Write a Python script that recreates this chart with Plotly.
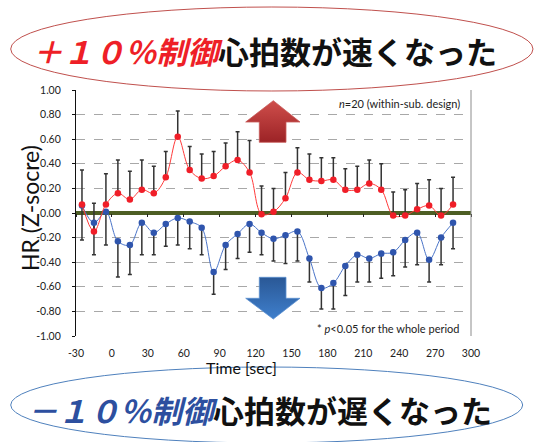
import plotly.graph_objects as go

# Time bins (sec) and heart-rate z-scores, mean and SE per bin
time_sec = [-25, -15, -5, 5, 15, 25, 35, 45, 55, 65, 75, 85, 95, 105, 115, 125,
            135, 145, 155, 165, 175, 185, 195, 205, 215, 225, 235, 245, 255, 265, 275, 285]

plus10_mean = [0.07, -0.15, 0.07, 0.16, 0.11, 0.19, 0.16, 0.29, 0.62, 0.35, 0.28, 0.30,
               0.38, 0.43, 0.33, -0.01, 0.01, 0.12, 0.33, 0.27, 0.26, 0.27, 0.19, 0.19,
               0.24, 0.19, -0.02, -0.02, 0.03, 0.06, -0.02, 0.07]
plus10_err = [0.28, 0.23, 0.25, 0.27, 0.23, 0.24, 0.22, 0.21, 0.21, 0.19, 0.20, 0.20,
              0.19, 0.23, 0.26, 0.23, 0.19, 0.21, 0.20, 0.21, 0.19, 0.18, 0.17, 0.19,
              0.19, 0.21, 0.19, 0.21, 0.21, 0.21, 0.22, 0.22]

minus10_mean = [0.06, -0.08, 0.01, -0.23, -0.26, -0.08, -0.16, -0.09, -0.04, -0.07, -0.12, -0.48,
                -0.26, -0.17, -0.09, -0.16, -0.21, -0.18, -0.15, -0.37, -0.61, -0.57, -0.43, -0.34,
                -0.37, -0.33, -0.32, -0.22, -0.16, -0.38, -0.20, -0.08]
minus10_err = [0.28, 0.26, 0.27, 0.29, 0.24, 0.26, 0.18, 0.18, 0.22, 0.22, 0.22, 0.18,
               0.20, 0.20, 0.23, 0.18, 0.18, 0.23, 0.24, 0.19, 0.17, 0.21, 0.24, 0.22,
               0.19, 0.20, 0.19, 0.22, 0.26, 0.18, 0.22, 0.21]

x_ticks = [-30, 0, 30, 60, 90, 120, 150, 180, 210, 240, 270, 300]
x_tick_text = ["-30", "0", "30", "60", "90", "120", "150", "180", "210", "240", "270", "300"]
y_ticks = [-1.0, -0.8, -0.6, -0.4, -0.2, 0.0, 0.2, 0.4, 0.6, 0.8, 1.0]
y_tick_text = ["-1.00", "-0.80", "-0.60", "-0.40", "-0.20", "0.00",
               "0.20", "0.40", "0.60", "0.80", "1.00"]

W, H = 535, 442
FONT = "Lato"
JP = "Noto Sans CJK JP"
RED, BLUE = "#f01e28", "#2f55ad"
ERR = "#333333"

fig = go.Figure()

zeros = [0] * len(time_sec)

# error bars first so the markers sit on top of them
fig.add_trace(go.Scatter(
    x=time_sec, y=plus10_mean, mode="markers", marker=dict(size=1, opacity=0),
    error_y=dict(type="data", symmetric=False, array=plus10_err, arrayminus=zeros,
                 color=ERR, thickness=1.5, width=2),
    hoverinfo="skip", showlegend=False))
fig.add_trace(go.Scatter(
    x=time_sec, y=minus10_mean, mode="markers", marker=dict(size=1, opacity=0),
    error_y=dict(type="data", symmetric=False, array=zeros, arrayminus=minus10_err,
                 color=ERR, thickness=1.5, width=2),
    hoverinfo="skip", showlegend=False))

fig.add_trace(go.Scatter(
    x=time_sec, y=minus10_mean, mode="lines+markers", name="-10%",
    line=dict(color="#4a74c8", width=1, shape="spline", smoothing=1),
    marker=dict(color=BLUE, size=6.5), showlegend=False))
fig.add_trace(go.Scatter(
    x=time_sec, y=plus10_mean, mode="lines+markers", name="+10%",
    line=dict(color="#ff3a3a", width=1, shape="spline", smoothing=1),
    marker=dict(color=RED, size=6.5), showlegend=False))

# tick marks hanging from the zero line
fig.add_trace(go.Scatter(x=[None], y=[None], xaxis="x2", yaxis="y",
                         showlegend=False, hoverinfo="skip"))

# decorative arrows, drawn on a full-figure pixel overlay
up_x = [273.3, 300, 286, 286, 259.3, 259.3, 245.7, 273.3]
up_y = [100.7, 122, 122, 142.3, 142.3, 122, 122, 100.7]
dn_x = [259.3, 286, 286, 300, 273.3, 245.7, 259.3, 259.3]
dn_y = [277.3, 277.3, 298.3, 298.3, 319, 298.3, 298.3, 277.3]

fig.add_trace(go.Scatter(
    x=up_x, y=up_y, xaxis="x3", yaxis="y3", mode="lines", fill="toself",
    line=dict(color="#c85a58", width=0.8),
    fillgradient=dict(type="vertical", colorscale=[[0, "#9c2326"], [1, "#cf4e4b"]],
                      start=142.3, stop=100.7),
    hoverinfo="skip", showlegend=False))
fig.add_trace(go.Scatter(
    x=dn_x, y=dn_y, xaxis="x3", yaxis="y3", mode="lines", fill="toself",
    line=dict(color="#5b8fd0", width=0.8),
    fillgradient=dict(type="vertical", colorscale=[[0, "#2a5896"], [1, "#3f7fcc"]],
                      start=277.3, stop=319),
    hoverinfo="skip", showlegend=False))

x_dom = [76 / W, 471 / W]
y_dom = [(H - 336) / H, (H - 90) / H]
zero_pos = y_dom[0] + (y_dom[1] - y_dom[0]) / 2

fig.update_layout(
    width=W, height=H,
    margin=dict(l=0, r=0, t=0, b=0, pad=0, autoexpand=False),
    paper_bgcolor="white", plot_bgcolor="rgba(0,0,0,0)",
    font=dict(family=FONT, color="#222222"),
    xaxis=dict(domain=x_dom, range=[-30, 300], tickvals=x_ticks, ticktext=x_tick_text,
               automargin=False,
               showgrid=False, zeroline=False, showline=False, ticks="",
               tickfont=dict(size=10.5, color="#222"), ticklabelstandoff=9),
    xaxis2=dict(overlaying="x", anchor="free", position=zero_pos, range=[-30, 300],
                tickvals=x_ticks, showticklabels=False, showgrid=False, zeroline=False,
                automargin=False,
                showline=False, ticks="outside", ticklen=3, tickcolor="#222", tickwidth=1),
    yaxis=dict(domain=y_dom, range=[-1, 1], tickvals=y_ticks, ticktext=y_tick_text,
               automargin=False,
               showgrid=True, gridcolor="#a8a8a8", griddash="dash", gridwidth=1,
               zeroline=True, zerolinecolor="#4d5e24", zerolinewidth=3.5,
               showline=True, linecolor="#111", linewidth=1.2,
               ticks="outside", ticklen=3, tickcolor="#111",
               tickfont=dict(size=10.5, color="#222"), ticklabelstandoff=9),
    xaxis3=dict(domain=[0, 1], range=[0, W], visible=False, anchor="y3",
                fixedrange=True, automargin=False),
    yaxis3=dict(domain=[0, 1], range=[H, 0], visible=False, anchor="x3",
                fixedrange=True, automargin=False),
)

# right border of the plot area
fig.add_shape(type="line", xref="x domain", yref="y domain", x0=1, x1=1, y0=0, y1=1,
              line=dict(color="#8c8c8c", width=1))

# the two call-out ellipses
fig.add_shape(type="circle", xref="paper", yref="paper",
              x0=10.7 / W, x1=533 / W, y0=1 - 91 / H, y1=1 - 7 / H,
              line=dict(color="#c0504d", width=1), layer="above")
fig.add_shape(type="circle", xref="paper", yref="paper",
              x0=10.7 / W, x1=522.7 / W, y0=1 - 443 / H, y1=1 - 367 / H,
              line=dict(color="#4f81bd", width=1), layer="above")

def px(xp, yp):
    return dict(xref="paper", yref="paper", x=xp / W, y=1 - yp / H, showarrow=False)

fig.add_annotation(**px(264, 50),
                   text="<span style='color:#ee1f27'><i>＋１０％制御</i></span>心拍数が速くなった",
                   font=dict(family=JP, size=31, color="#111", weight=700),
                   xanchor="center", yanchor="middle")
fig.add_annotation(**px(259, 409),
                   text="<span style='color:#2d4f9f'><i>－１０％制御</i></span>心拍数が遅くなった",
                   font=dict(family=JP, size=31, color="#111", weight=700),
                   xanchor="center", yanchor="middle")

fig.add_annotation(**px(30, 208), text="HR (Z-socre)", textangle=-90,
                   font=dict(family=FONT, size=23, color="#111"),
                   xanchor="center", yanchor="middle")
fig.add_annotation(**px(241, 367), text="Time [sec]",
                   font=dict(family=FONT, size=16, color="#111"),
                   xanchor="center", yanchor="middle")
fig.add_annotation(**px(462, 103), text="<i>n</i>=20 (within-sub. design)",
                   font=dict(family=FONT, size=11, color="#222"),
                   xanchor="right", yanchor="middle")
fig.add_annotation(**px(462, 328), text="* <i>p</i>&lt;0.05 for the whole period",
                   font=dict(family=FONT, size=11, color="#222"),
                   xanchor="right", yanchor="middle")

fig.write_html("out.html")
